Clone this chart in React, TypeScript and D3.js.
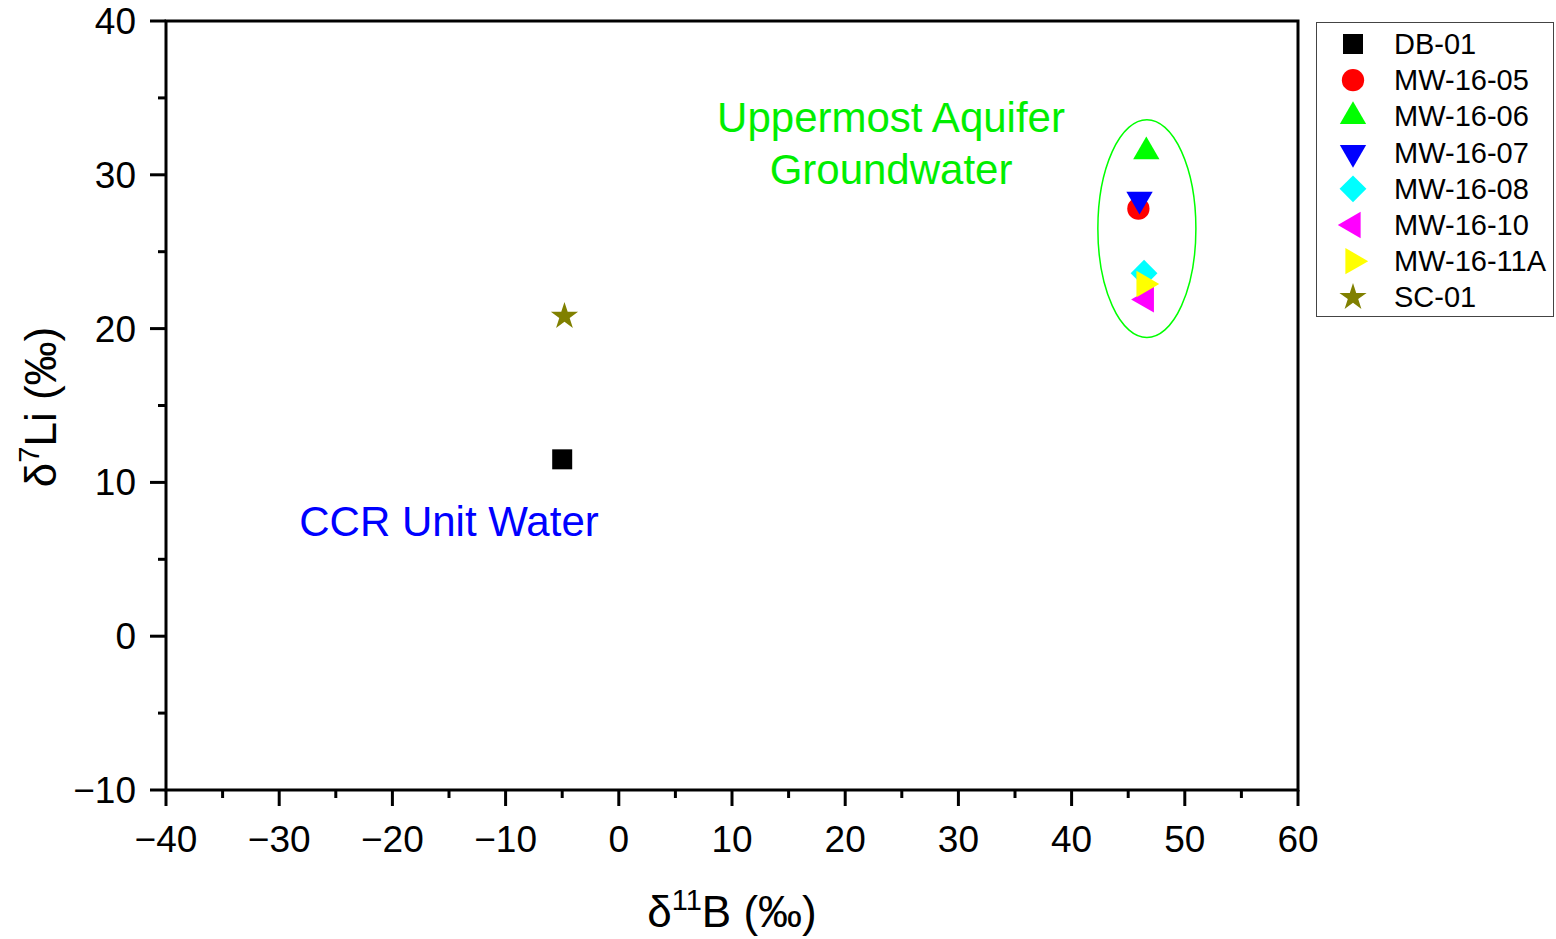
import React from 'react';
import * as d3 from 'd3';

// sample names, symbol kinds and colours
const samples = ['DB-01', 'MW-16-05', 'MW-16-06', 'MW-16-07', 'MW-16-08', 'MW-16-10', 'MW-16-11A', 'SC-01'];
const d11B = [-5.0, 45.9, 46.6, 46.0, 46.4, 46.6, 46.4, -4.8];
const d7Li = [11.5, 27.8, 31.5, 28.4, 23.6, 21.9, 22.9, 20.8];
const shapes = ['square', 'circle', 'up', 'down', 'diamond', 'left', 'right', 'star'];
const colors = ['#000000', '#ff0000', '#00ff00', '#0000ff', '#00ffff', '#ff00ff', '#ffff00', '#808000'];

const xTicks = [-40, -30, -20, -10, 0, 10, 20, 30, 40, 50, 60];
const yTicks = [-10, 0, 10, 20, 30, 40];

const W = 1556;
const H = 939;
const margin = { top: 21, right: 258, bottom: 149, left: 166 };

const symbolPath = (kind: string) => {
    if (kind === 'square') return d3.symbol(d3.symbolSquare, 400)();
    if (kind === 'circle') return d3.symbol(d3.symbolCircle, 390)();
    if (kind === 'diamond') return d3.symbol(d3.symbolSquare, 360)();
    if (kind === 'star') return d3.symbol(d3.symbolStar, 230)();
    return d3.symbol(d3.symbolTriangle, 300)();
};

const symbolRotate = (kind: string) => {
    if (kind === 'down') return 180;
    if (kind === 'left') return -90;
    if (kind === 'right') return 90;
    if (kind === 'diamond') return 45;
    return 0;
};

const Marker = ({ kind, color, x, y }: { kind: string; color: string; x: number; y: number }) => (
    <path
        d={symbolPath(kind) || ''}
        fill={color}
        transform={`translate(${x},${y}) rotate(${symbolRotate(kind)})`}
    />
);

export default function App() {
    const x = d3.scaleLinear().domain([-40, 60]).range([margin.left, W - margin.right]);
    const y = d3.scaleLinear().domain([-10, 40]).range([H - margin.bottom, margin.top]);
    const fmt = x.tickFormat(10, 'd');

    const minorX = d3.range(-35, 60, 10);
    const minorY = d3.range(-5, 40, 10);

    const x0 = x(-40), x1 = x(60), y0 = y(-10), y1 = y(40);
    const font = 'Liberation Sans, Arial, sans-serif';

    // ellipse round the uppermost aquifer samples
    const ell = { cx: 46.65, cy: 26.5, rx: 4.33, ry: 7.08 };

    return (
        <svg width={W} height={H} style={{ position: 'absolute', left: 0, top: 0, background: '#fff' }} fontFamily={font}>
            <rect x={0} y={0} width={W} height={H} fill="#fff" />

            {/* ellipse */}
            <ellipse
                cx={x(ell.cx)}
                cy={y(ell.cy)}
                rx={x(ell.cx + ell.rx) - x(ell.cx)}
                ry={y(ell.cy) - y(ell.cy + ell.ry)}
                fill="none"
                stroke="#00ff00"
                strokeWidth={1.5}
            />

            {/* annotations */}
            <text x={x(24.05)} y={y(32.8)} textAnchor="middle" fontSize={42} fill="#00ee00">Uppermost Aquifer</text>
            <text x={x(24.05)} y={y(29.4)} textAnchor="middle" fontSize={42} fill="#00ee00">Groundwater</text>
            <text x={x(-15.0)} y={y(6.5)} textAnchor="middle" fontSize={42} fill="#0000ff">CCR Unit Water</text>

            {/* points */}
            {samples.map((s, i) => (
                <Marker key={s} kind={shapes[i]} color={colors[i]} x={x(d11B[i])} y={y(d7Li[i])} />
            ))}

            {/* frame */}
            <rect x={x0} y={y1} width={x1 - x0} height={y0 - y1} fill="none" stroke="#000" strokeWidth={3} />

            {/* x ticks */}
            {xTicks.map(t => (
                <g key={'x' + t}>
                    <line x1={x(t)} x2={x(t)} y1={y0} y2={y0 + 16} stroke="#000" strokeWidth={3} />
                    <text x={x(t)} y={y0 + 62} textAnchor="middle" fontSize={37}>{fmt(t)}</text>
                </g>
            ))}
            {minorX.map(t => (
                <line key={'mx' + t} x1={x(t)} x2={x(t)} y1={y0} y2={y0 + 8} stroke="#000" strokeWidth={3} />
            ))}

            {/* y ticks */}
            {yTicks.map(t => (
                <g key={'y' + t}>
                    <line x1={x0 - 16} x2={x0} y1={y(t)} y2={y(t)} stroke="#000" strokeWidth={3} />
                    <text x={x0 - 30} y={y(t) + 13} textAnchor="end" fontSize={37}>{fmt(t)}</text>
                </g>
            ))}
            {minorY.map(t => (
                <line key={'my' + t} x1={x0 - 8} x2={x0} y1={y(t)} y2={y(t)} stroke="#000" strokeWidth={3} />
            ))}

            {/* axis titles */}
            <text x={(x0 + x1) / 2} y={927} textAnchor="middle" fontSize={44}>
                δ<tspan dy={-17} fontSize={29}>11</tspan><tspan dy={17}>B (‰)</tspan>
            </text>
            <text transform={`translate(56,407) rotate(-90)`} textAnchor="middle" fontSize={44}>
                δ<tspan dy={-17} fontSize={29}>7</tspan><tspan dy={17}>Li (‰)</tspan>
            </text>

            {/* legend */}
            <rect x={1316.5} y={22.5} width={237} height={294} fill="#fff" stroke="#444" strokeWidth={1} />
            {samples.map((s, i) => (
                <g key={'lg' + s}>
                    <Marker kind={shapes[i]} color={colors[i]} x={1353} y={44 + i * 36.2} />
                    <text x={1394} y={44 + i * 36.2 + 10} fontSize={29}>{s}</text>
                </g>
            ))}
        </svg>
    );
}
